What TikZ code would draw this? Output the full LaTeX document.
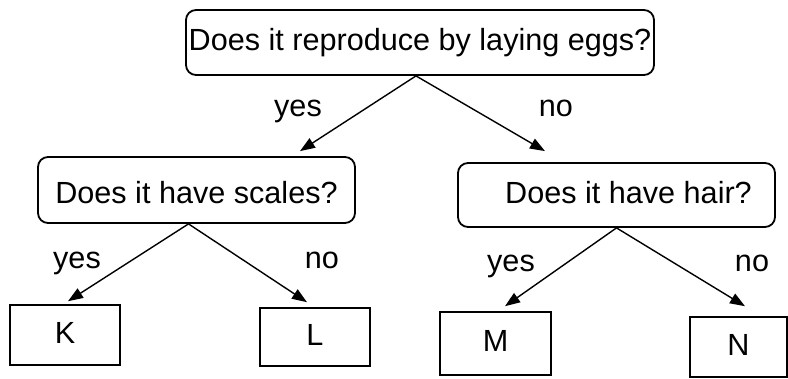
\documentclass[tikz,border=0pt]{standalone}
\usepackage{fontspec}
\setmainfont{Liberation Sans}
\usetikzlibrary{arrows.meta}
\begin{document}
\begin{tikzpicture}[x=1pt,y=-1pt,
  every node/.style={font=\fontsize{30.6}{34}\selectfont, inner sep=0pt, text height=22pt, text depth=6pt},
  qbox/.style={draw, line width=1.8pt, rounded corners=10pt},
  leaf/.style={draw, line width=1.6pt},
  lbl/.style={anchor=base, text height=, text depth=},
  arr/.style={line width=1.4pt, -{Triangle[length=15pt,width=11pt]}}
]
\useasboundingbox[fill=white] (0,0) rectangle (788,378);
% question boxes
\node[qbox, minimum width=468pt, minimum height=65pt] (q1) at (420,42.5) {Does it reproduce by laying eggs?};
\node[qbox, minimum width=317pt, minimum height=66pt] (q2) at (196.5,190) {\raisebox{-5pt}{Does it have scales?}};
\node[qbox, minimum width=317pt, minimum height=64pt] (q3) at (616.5,195) {\hspace{24pt}Does it have hair?};
% leaves
\node[leaf, minimum width=110pt, minimum height=60pt] (K) at (65,335) {K};
\node[leaf, minimum width=110pt, minimum height=58pt] (L) at (315,337) {L};
\node[leaf, minimum width=111pt, minimum height=63pt] (M) at (495.5,343.5) {M};
\node[leaf, minimum width=97pt, minimum height=60pt] (N) at (738.5,347) {N};
% arrow tips
\coordinate (t1) at ([xshift=103.5pt,yshift=5pt]q2.north);
\coordinate (t2) at ([xshift=-71.5pt,yshift=11pt]q3.north);
\coordinate (t3) at ([xshift=3pt,yshift=3pt]K.north);
\coordinate (t4) at ([xshift=-8pt,yshift=5pt]L.north);
\coordinate (t5) at ([xshift=9.5pt,yshift=5pt]M.north);
\coordinate (t6) at ([xshift=6.5pt,yshift=10pt]N.north);
% connectors
\draw[arr] ([xshift=-4pt]q1.south) -- (t1);
\draw[arr] ([xshift=-4pt]q1.south) -- (t2);
\draw[arr] ([xshift=-8pt]q2.south) -- (t3);
\draw[arr] ([xshift=-8pt]q2.south) -- (t4);
\draw[arr] (q3.south) -- (t5);
\draw[arr] (q3.south) -- (t6);
% labels
\node[lbl] (y1) at (298,116) {yes};
\node[lbl] (n1) at (556,116) {no};
\node[lbl] (y2) at (77,268) {yes};
\node[lbl] (n2) at (322,268) {no};
\node[lbl] (y3) at (511,271) {yes};
\node[lbl] (n3) at (752,271) {no};
\end{tikzpicture}
\end{document}
